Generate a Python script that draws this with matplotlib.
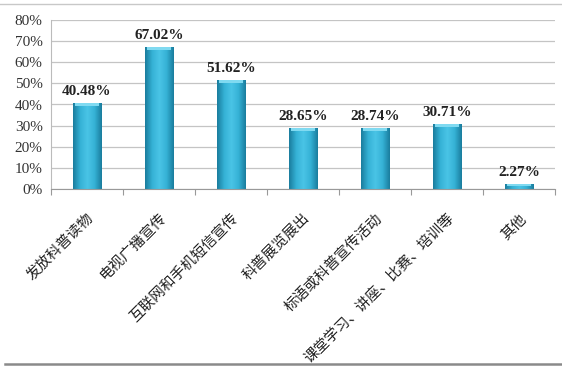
import numpy as np
import matplotlib
matplotlib.use("Agg")
from matplotlib import pyplot as plt
from matplotlib.colors import LinearSegmentedColormap
from matplotlib.lines import Line2D

categories = ["发放科普读物", "电视广播宣传", "互联网和手机短信宣传", "科普展览展出",
              "标语或科普宣传活动", "课堂学习、讲座、比赛、培训等", "其他"]
values = [40.48, 67.02, 51.62, 28.65, 28.74, 30.71, 2.27]
value_labels = ["40.48%", "67.02%", "51.62%", "28.65%", "28.74%", "30.71%", "2.27%"]
yticks = [0, 10, 20, 30, 40, 50, 60, 70, 80]
ytick_labels = ["0%", "10%", "20%", "30%", "40%", "50%", "60%", "70%", "80%"]

plt.rcParams['font.family'] = ['Liberation Serif', 'Noto Sans CJK SC', 'DejaVu Sans']

fig = plt.figure(figsize=(5.62, 3.72), dpi=100)
ax = fig.add_axes([51 / 562, 1 - 189 / 372, 504 / 562, 169 / 372])

x = np.arange(len(categories))
bars = ax.bar(x, values, width=0.4, color='#2fa6c9', edgecolor='#1f7f9c',
              linewidth=0.6, zorder=2)

# horizontal gradient inside each bar: dark edges, light middle
cmap = LinearSegmentedColormap.from_list(
    'bar', ['#1a7d9e', '#35b2d6', '#4ac4e6', '#35b2d6', '#1a7d9e'])
grad = np.linspace(0, 1, 64).reshape(1, -1)
for b in bars:
    x0, w, h = b.get_x(), b.get_width(), b.get_height()
    im = ax.imshow(grad, cmap=cmap, aspect='auto', extent=(x0, x0 + w, 0, h),
                   zorder=2.5)
    im.set_clip_path(b)
    # light bevel cap at the top
    cap = min(1.3, h * 0.4)
    ax.fill_between([x0 + w * 0.1, x0 + w * 0.9], h - cap, h,
                    color='#80daf1', zorder=2.6, linewidth=0)

for xi, v, lab in zip(x, values, value_labels):
    ax.text(xi, v + 2.4, lab, ha='center', va='bottom', fontsize=11,
            fontweight='bold', color='#222222')

ax.set_ylim(0, 80)
ax.set_xlim(-0.5, len(categories) - 0.5)
ax.set_yticks(yticks)
ax.set_yticklabels(ytick_labels, fontsize=11, color='#333333')
ax.yaxis.grid(True, color='#c4c4c4', linewidth=0.9, zorder=0)
ax.set_axisbelow(True)

# ticks at category boundaries, labels at centres
ax.set_xticks(np.arange(len(categories) + 1) - 0.5)
ax.set_xticklabels([])
ax.tick_params(axis='x', direction='out', length=4, color='#999999')
ax.tick_params(axis='y', length=0, pad=6)
ax.set_xticks(x, minor=True)
ax.set_xticklabels(categories, minor=True, rotation=45, ha='right',
                   rotation_mode='anchor', fontsize=10.5,
                   family=['Noto Sans CJK SC', 'DejaVu Sans'], color='#222222')
ax.tick_params(axis='x', which='minor', length=0, pad=16)

for s in ['top', 'right']:
    ax.spines[s].set_visible(False)
ax.spines['left'].set_color('#bbbbbb')
ax.spines['bottom'].set_color('#999999')

# picture frame lines
fig.add_artist(Line2D([0.0, 1.0], [1 - 4 / 372] * 2, color='#c8c8c8',
                      linewidth=1, transform=fig.transFigure))
fig.add_artist(Line2D([5 / 562, 1.0], [1 - 364 / 372] * 2, color='#8a8a8a',
                      linewidth=1.8, transform=fig.transFigure))

fig.savefig('out.png', dpi=100)
